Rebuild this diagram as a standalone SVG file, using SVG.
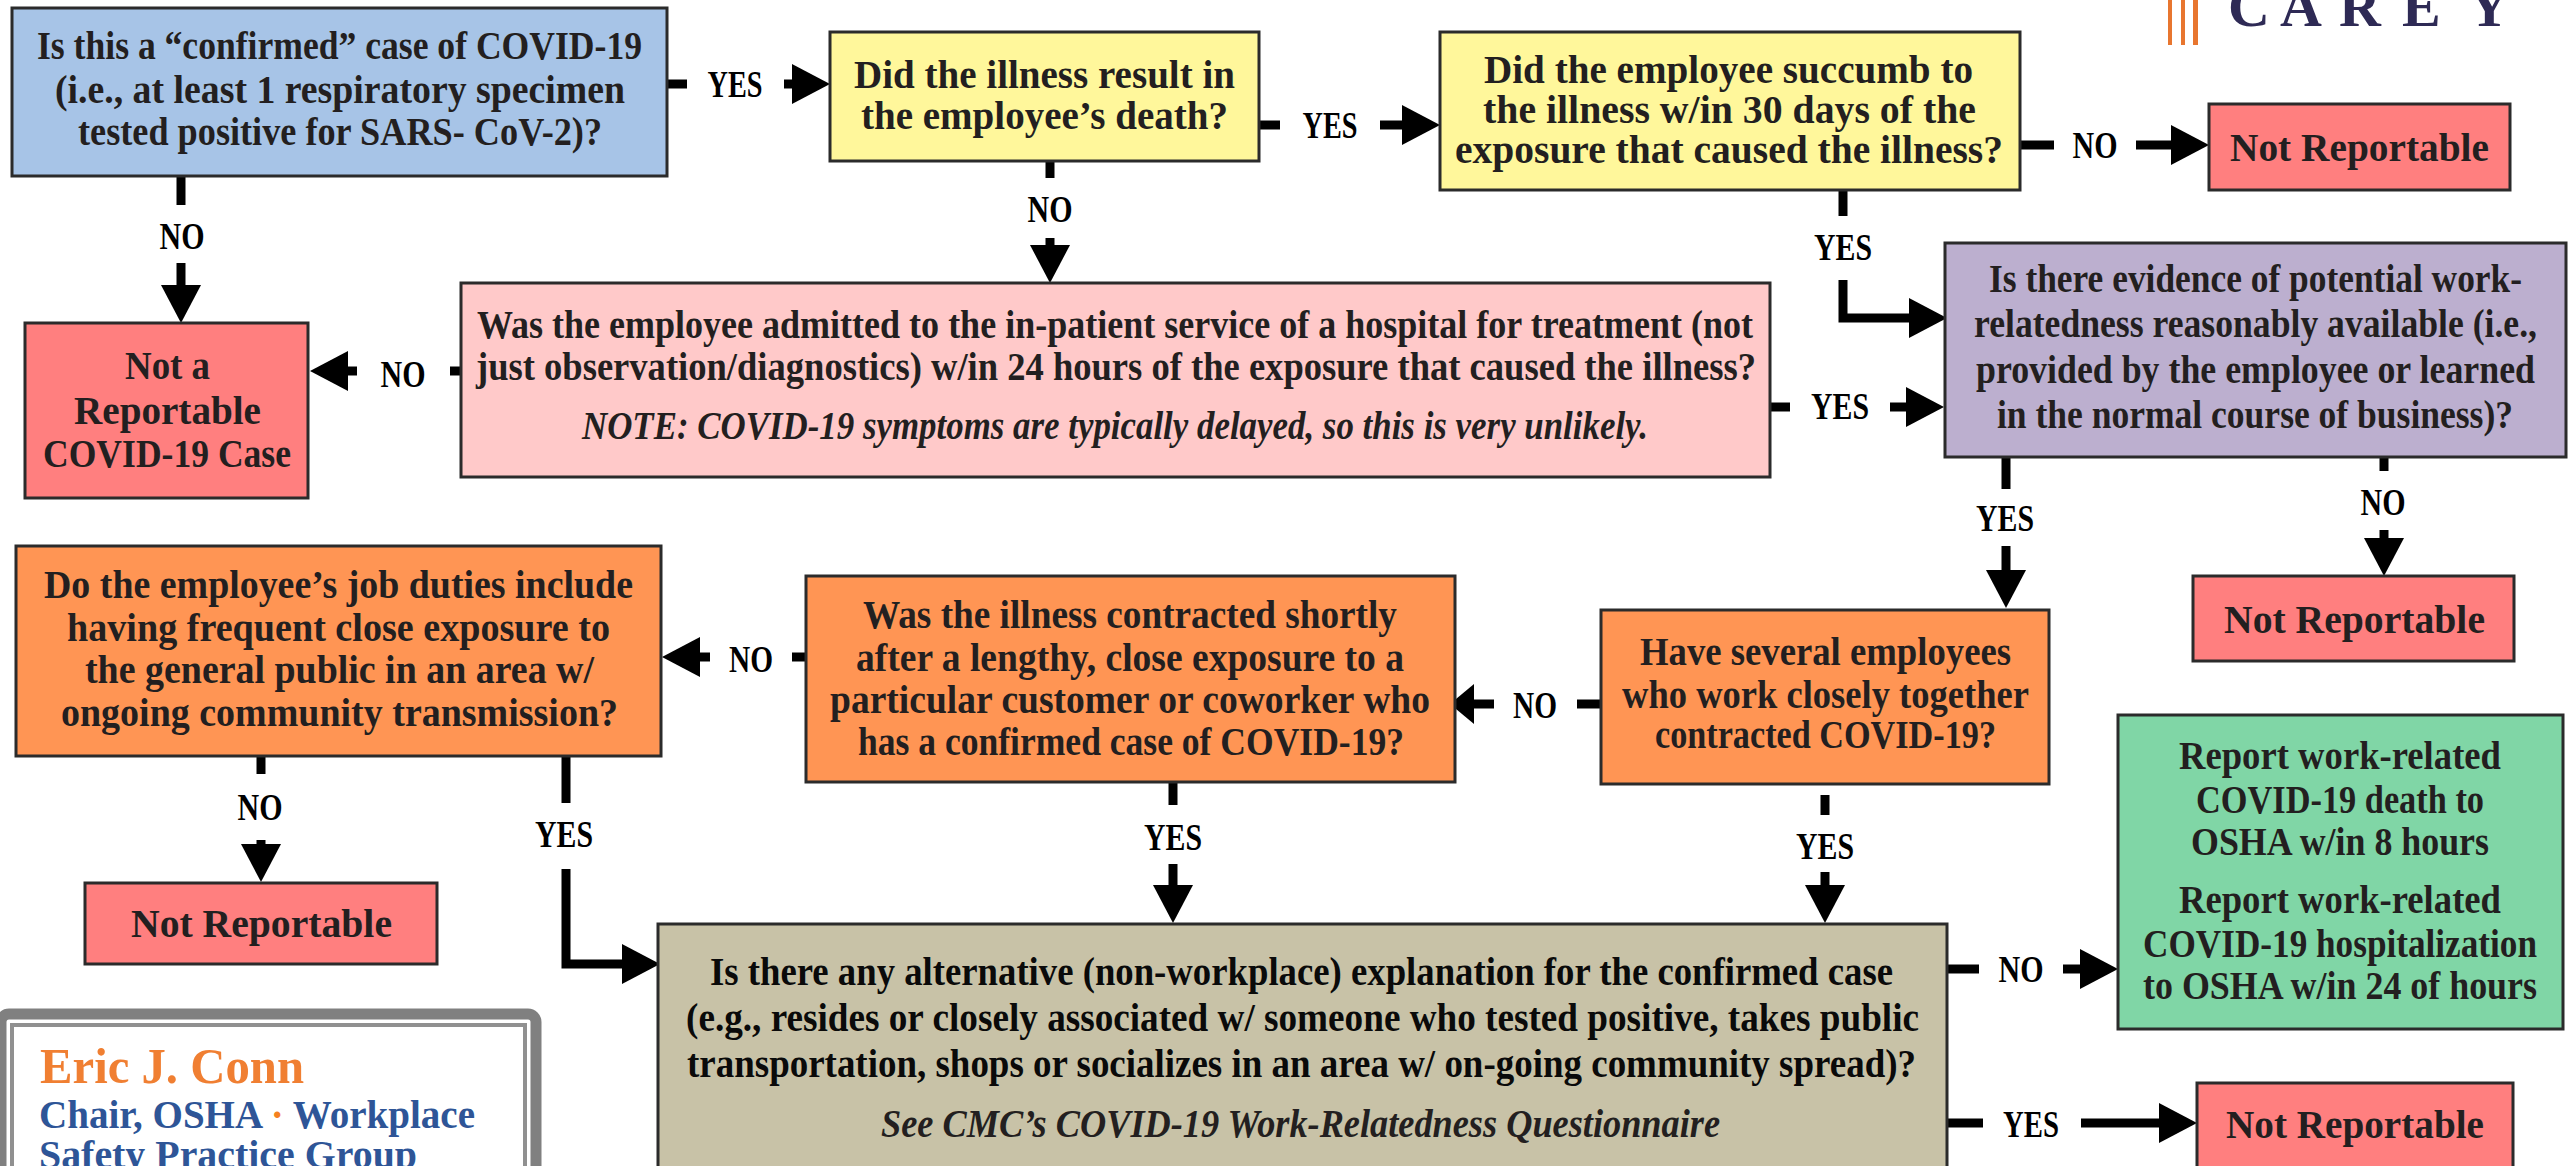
<svg xmlns="http://www.w3.org/2000/svg" width="2572" height="1166" viewBox="0 0 2572 1166">
<style>
text{font-family:"Liberation Serif","Times New Roman",serif;font-weight:700;font-size:39.5px;fill:#231f20;transform:translateY(1px)}
.box{stroke:#2b2b2b;stroke-width:3}
.blue{fill:#a7c4e7}.yellow{fill:#fff79b}.red{fill:#ff7f7f}.pink{fill:#ffc9c9}.purple{fill:#bcafcf}.orange{fill:#ff9554}.tan{fill:#c8c2a7}.green{fill:#80d6a6}
.lbl{font-size:37px;fill:#000;text-anchor:middle}
.it{font-style:italic}
.k{fill:#0a0a0a}
.c{fill:none;stroke:#000;stroke-width:9}
.logo{font-size:58px;fill:#2e2a55;transform:none}
.name{font-size:50px;fill:#f07f32}
.role{font-size:39px;fill:#2e5597}
.bar{fill:#e8762f}
</style>
<defs>
<marker id="a" markerUnits="userSpaceOnUse" markerWidth="38" markerHeight="40" viewBox="0 0 38 40" refX="18" refY="20" orient="auto"><path d="M0 0L38 20L0 40z" fill="#000"/></marker>
<marker id="s" markerUnits="userSpaceOnUse" markerWidth="24" markerHeight="40" viewBox="0 0 24 40" refX="10" refY="20" orient="auto"><path d="M0 0L24 20L0 40z" fill="#000"/></marker>
</defs>
<rect width="2572" height="1166" fill="#fff"/>
<g id="connectors">
<path class="c" d="M667 84H687"/><path class="c" d="M784 84H810" marker-end="url(#a)"/>
<path class="c" d="M181 176V205"/><path class="c" d="M181 263V303" marker-end="url(#a)"/>
<path class="c" d="M1259 125H1280"/><path class="c" d="M1380 125H1420" marker-end="url(#a)"/>
<path class="c" d="M1050 160V178"/><path class="c" d="M1050 238V263" marker-end="url(#a)"/>
<path class="c" d="M2020 145H2054"/><path class="c" d="M2136 145H2189" marker-end="url(#a)"/>
<path class="c" d="M1843 190V216"/><path class="c" d="M1843 280V318H1927" marker-end="url(#a)"/>
<path class="c" d="M461 371H450"/><path class="c" d="M357 371H330" marker-end="url(#a)"/>
<path class="c" d="M1770 407H1790"/><path class="c" d="M1890 407H1924" marker-end="url(#a)"/>
<path class="c" d="M2006 457V489"/><path class="c" d="M2006 546V588" marker-end="url(#a)"/>
<path class="c" d="M2384 457V471"/><path class="c" d="M2384 530V556" marker-end="url(#a)"/>
<path class="c" d="M1600 704H1577"/><path class="c" d="M1494 704H1464" marker-end="url(#s)"/>
<path class="c" d="M805 657H792"/><path class="c" d="M710 657H682" marker-end="url(#a)"/>
<path class="c" d="M261 756V774"/><path class="c" d="M261 840V862" marker-end="url(#a)"/>
<path class="c" d="M566 756V803"/><path class="c" d="M566 869V964H640" marker-end="url(#a)"/>
<path class="c" d="M1173 782V805"/><path class="c" d="M1173 864V903" marker-end="url(#a)"/>
<path class="c" d="M1825 795V815"/><path class="c" d="M1825 872V903" marker-end="url(#a)"/>
<path class="c" d="M1947 969H1979"/><path class="c" d="M2063 969H2098" marker-end="url(#a)"/>
<path class="c" d="M1947 1123H1983"/><path class="c" d="M2081 1123H2177" marker-end="url(#a)"/>
<text class="lbl" x="735" y="96" textLength="55" lengthAdjust="spacingAndGlyphs">YES</text>
<text class="lbl" x="182" y="248" textLength="45" lengthAdjust="spacingAndGlyphs">NO</text>
<text class="lbl" x="1330" y="137" textLength="55" lengthAdjust="spacingAndGlyphs">YES</text>
<text class="lbl" x="1050" y="221" textLength="45" lengthAdjust="spacingAndGlyphs">NO</text>
<text class="lbl" x="2095" y="157" textLength="45" lengthAdjust="spacingAndGlyphs">NO</text>
<text class="lbl" x="1843" y="259" textLength="58" lengthAdjust="spacingAndGlyphs">YES</text>
<text class="lbl" x="403" y="386" textLength="45" lengthAdjust="spacingAndGlyphs">NO</text>
<text class="lbl" x="1840" y="418" textLength="58" lengthAdjust="spacingAndGlyphs">YES</text>
<text class="lbl" x="2005" y="530" textLength="58" lengthAdjust="spacingAndGlyphs">YES</text>
<text class="lbl" x="2383" y="514" textLength="45" lengthAdjust="spacingAndGlyphs">NO</text>
<text class="lbl" x="1535" y="717" textLength="44" lengthAdjust="spacingAndGlyphs">NO</text>
<text class="lbl" x="751" y="671" textLength="44" lengthAdjust="spacingAndGlyphs">NO</text>
<text class="lbl" x="260" y="819" textLength="45" lengthAdjust="spacingAndGlyphs">NO</text>
<text class="lbl" x="564" y="846" textLength="58" lengthAdjust="spacingAndGlyphs">YES</text>
<text class="lbl" x="1173" y="849" textLength="58" lengthAdjust="spacingAndGlyphs">YES</text>
<text class="lbl" x="1825" y="858" textLength="58" lengthAdjust="spacingAndGlyphs">YES</text>
<text class="lbl" x="2021" y="981" textLength="45" lengthAdjust="spacingAndGlyphs">NO</text>
<text class="lbl" x="2031" y="1136" textLength="56" lengthAdjust="spacingAndGlyphs">YES</text>
</g>
<g id="confirmed"><rect class="box blue" x="12" y="8" width="655" height="168"/>
<text x="37" y="58" textLength="605" lengthAdjust="spacingAndGlyphs">Is this a “confirmed” case of COVID-19</text>
<text x="55" y="102" textLength="570" lengthAdjust="spacingAndGlyphs">(i.e., at least 1 respiratory specimen</text>
<text x="78" y="144" textLength="524" lengthAdjust="spacingAndGlyphs">tested positive for SARS- CoV-2)?</text></g>
<g id="death"><rect class="box yellow" x="830" y="32" width="429" height="129"/>
<text x="854" y="87" textLength="381" lengthAdjust="spacingAndGlyphs">Did the illness result in</text>
<text x="861" y="128" textLength="367" lengthAdjust="spacingAndGlyphs">the employee’s death?</text></g>
<g id="succumb"><rect class="box yellow" x="1440" y="32" width="580" height="158"/>
<text x="1484" y="82" textLength="489" lengthAdjust="spacingAndGlyphs">Did the employee succumb to</text>
<text x="1483" y="122" textLength="493" lengthAdjust="spacingAndGlyphs">the illness w/in 30 days of the</text>
<text x="1455" y="162" textLength="548" lengthAdjust="spacingAndGlyphs">exposure that caused the illness?</text></g>
<g id="not-reportable-1"><rect class="box red" x="2209" y="104" width="301" height="86"/>
<text x="2230" y="160" textLength="259" lengthAdjust="spacingAndGlyphs">Not Reportable</text></g>
<g id="evidence"><rect class="box purple" x="1945" y="243" width="621" height="214"/>
<text x="1989" y="291" textLength="533" lengthAdjust="spacingAndGlyphs">Is there evidence of potential work-</text>
<text x="1974" y="336" textLength="563" lengthAdjust="spacingAndGlyphs">relatedness reasonably available (i.e.,</text>
<text x="1976" y="382" textLength="559" lengthAdjust="spacingAndGlyphs">provided by the employee or learned</text>
<text x="1997" y="427" textLength="516" lengthAdjust="spacingAndGlyphs">in the normal course of business)?</text></g>
<g id="not-a-case"><rect class="box red" x="25" y="323" width="283" height="175"/>
<text x="125" y="378" textLength="85" lengthAdjust="spacingAndGlyphs">Not a</text>
<text x="74" y="423" textLength="187" lengthAdjust="spacingAndGlyphs">Reportable</text>
<text x="43" y="466" textLength="248" lengthAdjust="spacingAndGlyphs">COVID-19 Case</text></g>
<g id="hospital"><rect class="box pink" x="461" y="283" width="1309" height="194"/>
<text x="477" y="337" textLength="1276" lengthAdjust="spacingAndGlyphs">Was the employee admitted to the in-patient service of a hospital for treatment (not</text>
<text x="476" y="379" textLength="1280" lengthAdjust="spacingAndGlyphs">just observation/diagnostics) w/in 24 hours of the exposure that caused the illness?</text>
<text class="it" x="582" y="438" textLength="1066" lengthAdjust="spacingAndGlyphs">NOTE: COVID-19 symptoms are typically delayed, so this is very unlikely.</text></g>
<g id="not-reportable-2"><rect class="box red" x="2193" y="576" width="321" height="85"/>
<text x="2224" y="632" textLength="261" lengthAdjust="spacingAndGlyphs">Not Reportable</text></g>
<g id="several"><rect class="box orange" x="1601" y="610" width="448" height="174"/>
<text x="1640" y="664" textLength="371" lengthAdjust="spacingAndGlyphs">Have several employees</text>
<text x="1622" y="707" textLength="407" lengthAdjust="spacingAndGlyphs">who work closely together</text>
<text x="1655" y="747" textLength="341" lengthAdjust="spacingAndGlyphs">contracted COVID-19?</text></g>
<g id="lengthy"><rect class="box orange" x="806" y="576" width="649" height="206"/>
<text x="863" y="627" textLength="534" lengthAdjust="spacingAndGlyphs">Was the illness contracted shortly</text>
<text x="856" y="670" textLength="548" lengthAdjust="spacingAndGlyphs">after a lengthy, close exposure to a</text>
<text x="830" y="712" textLength="600" lengthAdjust="spacingAndGlyphs">particular customer or coworker who</text>
<text x="858" y="754" textLength="546" lengthAdjust="spacingAndGlyphs">has a confirmed case of COVID-19?</text></g>
<g id="duties"><rect class="box orange" x="16" y="546" width="645" height="210"/>
<text x="44" y="597" textLength="589" lengthAdjust="spacingAndGlyphs">Do the employee’s job duties include</text>
<text x="67" y="640" textLength="543" lengthAdjust="spacingAndGlyphs">having frequent close exposure to</text>
<text x="85" y="682" textLength="509" lengthAdjust="spacingAndGlyphs">the general public in an area w/</text>
<text x="61" y="725" textLength="557" lengthAdjust="spacingAndGlyphs">ongoing community transmission?</text></g>
<g id="not-reportable-3"><rect class="box red" x="85" y="883" width="352" height="81"/>
<text x="131" y="936" textLength="261" lengthAdjust="spacingAndGlyphs">Not Reportable</text></g>
<g id="alternative"><rect class="box tan" x="658" y="924" width="1289" height="260"/>
<text class="k" x="710" y="984" textLength="1183" lengthAdjust="spacingAndGlyphs">Is there any alternative (non-workplace) explanation for the confirmed case</text>
<text class="k" x="686" y="1030" textLength="1233" lengthAdjust="spacingAndGlyphs">(e.g., resides or closely associated w/ someone who tested positive, takes public</text>
<text class="k" x="687" y="1076" textLength="1229" lengthAdjust="spacingAndGlyphs">transportation, shops or socializes in an area w/ on-going community spread)?</text>
<text class="it" x="881" y="1136" textLength="839" lengthAdjust="spacingAndGlyphs">See CMC’s COVID-19 Work-Relatedness Questionnaire</text></g>
<g id="report"><rect class="box green" x="2118" y="715" width="445" height="314"/>
<text x="2179" y="768" textLength="322" lengthAdjust="spacingAndGlyphs">Report work-related</text>
<text x="2196" y="812" textLength="288" lengthAdjust="spacingAndGlyphs">COVID-19 death to</text>
<text x="2191" y="854" textLength="298" lengthAdjust="spacingAndGlyphs">OSHA w/in 8 hours</text>
<text x="2179" y="912" textLength="322" lengthAdjust="spacingAndGlyphs">Report work-related</text>
<text x="2143" y="956" textLength="394" lengthAdjust="spacingAndGlyphs">COVID-19 hospitalization</text>
<text x="2143" y="998" textLength="394" lengthAdjust="spacingAndGlyphs">to OSHA w/in 24 of hours</text></g>
<g id="not-reportable-4"><rect class="box red" x="2197" y="1083" width="316" height="100"/>
<text x="2226" y="1137" textLength="258" lengthAdjust="spacingAndGlyphs">Not Reportable</text></g>
<g id="logo">
<rect class="bar" x="2168" y="0" width="4" height="45"/><rect class="bar" x="2181" y="0" width="4" height="45"/><rect class="bar" x="2193" y="0" width="5" height="45"/>
<text class="logo" x="2228 2280 2339 2402 2468" y="26">CAREY</text></g>
<g id="contact">
<rect x="1" y="1014" width="535" height="170" rx="8" fill="#fff" stroke="#808080" stroke-width="11"/>
<rect x="12" y="1025" width="513" height="160" fill="none" stroke="#909090" stroke-width="4"/>
<text class="name" x="40" y="1082" textLength="264" lengthAdjust="spacingAndGlyphs">Eric J. Conn</text>
<text class="role" x="39" y="1127" textLength="436" lengthAdjust="spacingAndGlyphs">Chair, OSHA <tspan fill="#f5811f">·</tspan> Workplace</text>
<text class="role" x="39" y="1167" textLength="378" lengthAdjust="spacingAndGlyphs">Safety Practice Group</text></g>
</svg>
